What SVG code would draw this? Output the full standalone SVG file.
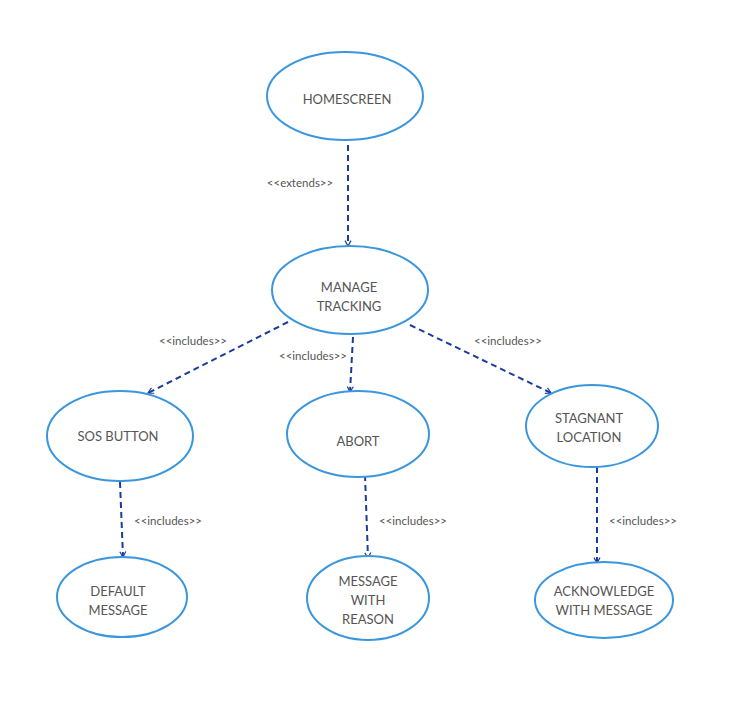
<svg xmlns="http://www.w3.org/2000/svg" width="744" height="712" viewBox="0 0 744 712">
<style>
.n{fill:#fff;stroke:#3a96dd;stroke-width:2}
.t{font-family:Lato,"Liberation Sans",sans-serif;font-size:13px;fill:#555;text-anchor:middle}
.l{font-family:Lato,"Liberation Sans",sans-serif;font-size:11.5px;fill:#555;text-anchor:middle}
.c{stroke:#1a3d9c;stroke-width:2;stroke-dasharray:6,4;fill:none;marker-end:url(#a)}
</style>
<defs><marker id="a" viewBox="0 0 10 10" refX="9" refY="5" markerWidth="6" markerHeight="6" orient="auto" markerUnits="userSpaceOnUse" overflow="visible"><path d="M0,0 L9,5 L0,10" fill="none" stroke="#1a3d9c" stroke-width="2" stroke-dasharray="none"/></marker></defs>
<rect width="744" height="712" fill="#fff"/>
<g id="connectors">
<path class="c" d="M348,145 L348,246"/>
<path class="c" d="M288,322 L148,393"/>
<path class="c" d="M353,337 L350,392"/>
<path class="c" d="M410,325 L551,393"/>
<path class="c" d="M120,482 L123,557"/>
<path class="c" d="M365,475 L368,558"/>
<path class="c" d="M597,467 L597,563"/>
<text class="l" x="300" y="187">&lt;&lt;extends&gt;&gt;</text>
<text class="l" x="193" y="345">&lt;&lt;includes&gt;&gt;</text>
<text class="l" x="313" y="360">&lt;&lt;includes&gt;&gt;</text>
<text class="l" x="508" y="345">&lt;&lt;includes&gt;&gt;</text>
<text class="l" x="168" y="525">&lt;&lt;includes&gt;&gt;</text>
<text class="l" x="413" y="525">&lt;&lt;includes&gt;&gt;</text>
<text class="l" x="643" y="525">&lt;&lt;includes&gt;&gt;</text>
</g>
<g id="homescreen"><ellipse class="n" cx="345" cy="96" rx="78" ry="44"/><text class="t" x="347" y="104">HOMESCREEN</text></g>
<g id="manage"><ellipse class="n" cx="350" cy="290" rx="78" ry="44"/><text class="t" x="349" y="292">MANAGE</text><text class="t" x="349" y="311">TRACKING</text></g>
<g id="sos"><ellipse class="n" cx="120" cy="436" rx="73" ry="45"/><text class="t" x="118" y="441">SOS BUTTON</text></g>
<g id="abort"><ellipse class="n" cx="358" cy="434" rx="71" ry="43"/><text class="t" x="358" y="446">ABORT</text></g>
<g id="stagnant"><ellipse class="n" cx="592" cy="426" rx="66" ry="41"/><text class="t" x="589" y="423">STAGNANT</text><text class="t" x="589" y="442">LOCATION</text></g>
<g id="default"><ellipse class="n" cx="122" cy="597" rx="65" ry="40"/><text class="t" x="118" y="596">DEFAULT</text><text class="t" x="118" y="615">MESSAGE</text></g>
<g id="reason"><ellipse class="n" cx="368" cy="598" rx="61" ry="42"/><text class="t" x="368" y="586">MESSAGE</text><text class="t" x="368" y="605">WITH</text><text class="t" x="368" y="624">REASON</text></g>
<g id="ack"><ellipse class="n" cx="604" cy="600" rx="69" ry="38"/><text class="t" x="604" y="596">ACKNOWLEDGE</text><text class="t" x="604" y="615">WITH MESSAGE</text></g>
</svg>
